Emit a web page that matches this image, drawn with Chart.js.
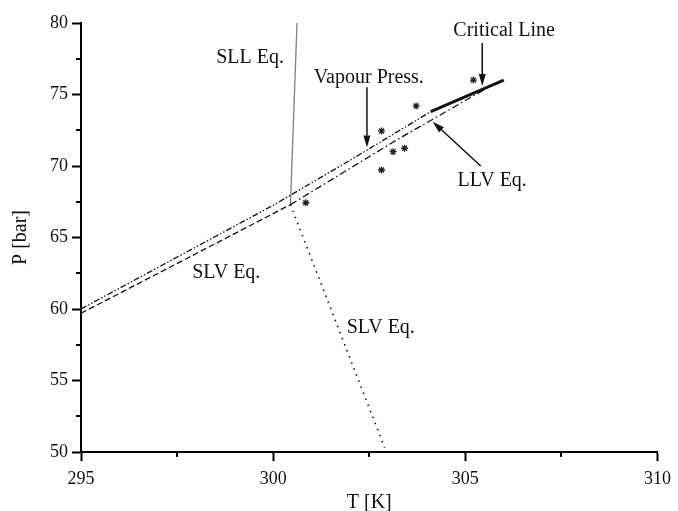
<!DOCTYPE html>
<html>
<head>
<meta charset="utf-8">
<script src="https://cdn.jsdelivr.net/npm/chart.js@4.4.0/dist/chart.umd.min.js"></script>
<style>
  html, body { margin: 0; padding: 0; background: #fff; }
  #wrap { width: 678px; height: 511px; }
</style>
</head>
<body>
<div id="wrap"><canvas id="phase"></canvas></div>
<script>
// curves: temperature T [K] against pressure P [bar]
const vapourT = [295, 297, 299, 300, 302, 304.1];
const vapourP = [60.0, 62.9, 65.8, 67.25, 70.4, 73.8];

const slvLowT = [295, 297.8, 300.45];
const slvLowP = [59.7, 63.6, 67.3];

const llvT = [300.45, 303.2, 305.5];
const llvP = [67.3, 71.8, 75.35];

const criticalT = [304.1, 306.0];
const criticalP = [73.8, 76.0];

const sllT = [300.45, 300.62];
const sllP = [67.3, 80];

const slvHighT = [300.45, 302.9];
const slvHighP = [67.3, 50.3];

// measured points
const expT = [300.85, 302.82, 302.82, 303.12, 303.42, 303.72, 305.21];
const expP = [67.43, 69.72, 72.45, 71.0, 71.24, 74.2, 76.01];

const xTicks = [295, 300, 305, 310];
const yTicks = [50, 55, 60, 65, 70, 75, 80];
const xMinor = [297.5, 302.5, 307.5];
const yMinor = [52.5, 57.5, 62.5, 67.5, 72.5, 77.5];

const pts = (ts, ps) => ts.map((t, i) => ({ x: t, y: ps[i] }));

const INK = '#111';
Chart.defaults.font.family = '"Liberation Serif", "Times New Roman", serif';
Chart.defaults.color = INK;

// text labels and arrows, placed in data units
const notes = [
  { text: 'SLL Eq.', t: 299.4, p: 77.55 },
  { text: 'Vapour Press.', t: 302.49, p: 76.15 },
  { text: 'Critical Line', t: 306.01, p: 79.44 },
  { text: 'LLV Eq.', t: 305.7, p: 69.0 },
  { text: 'SLV Eq.', t: 298.78, p: 62.52 },
  { text: 'SLV Eq.', t: 302.8, p: 58.67 }
];
const arrows = [
  { from: [302.44, 75.5], to: [302.44, 71.3] },
  { from: [305.44, 78.6], to: [305.44, 75.6] },
  { from: [305.4, 70.0], to: [304.15, 73.1] }
];

const minorTicks = {
  id: 'minorTicks',
  afterDraw(chart) {
    const { ctx, scales: { x, y } } = chart;
    ctx.save();
    ctx.strokeStyle = '#000';
    ctx.lineWidth = 2;
    ctx.beginPath();
    xMinor.forEach(v => {
      const px = Math.round(x.getPixelForValue(v));
      ctx.moveTo(px, x.top);
      ctx.lineTo(px, x.top + 5);
    });
    yMinor.forEach(v => {
      const py = Math.round(y.getPixelForValue(v));
      ctx.moveTo(y.right, py);
      ctx.lineTo(y.right - 5, py);
    });
    ctx.stroke();
    ctx.restore();
  }
};

const annotations = {
  id: 'annotations',
  afterDatasetsDraw(chart) {
    const { ctx, scales: { x, y } } = chart;
    ctx.save();
    ctx.fillStyle = INK;
    ctx.font = '20px "Liberation Serif", "Times New Roman", serif';
    ctx.textAlign = 'center';
    ctx.textBaseline = 'middle';
    notes.forEach(n => ctx.fillText(n.text, x.getPixelForValue(n.t), y.getPixelForValue(n.p)));

    ctx.strokeStyle = INK;
    ctx.lineWidth = 1.5;
    arrows.forEach(a => {
      const x0 = x.getPixelForValue(a.from[0]), y0 = y.getPixelForValue(a.from[1]);
      const x1 = x.getPixelForValue(a.to[0]), y1 = y.getPixelForValue(a.to[1]);
      const ang = Math.atan2(y1 - y0, x1 - x0);
      const len = 12, half = 3.5;
      const bx = x1 - len * Math.cos(ang), by = y1 - len * Math.sin(ang);
      ctx.beginPath();
      ctx.moveTo(x0, y0);
      ctx.lineTo(bx, by);
      ctx.stroke();
      ctx.beginPath();
      ctx.moveTo(x1, y1);
      ctx.lineTo(bx + half * Math.sin(ang), by - half * Math.cos(ang));
      ctx.lineTo(bx - half * Math.sin(ang), by + half * Math.cos(ang));
      ctx.closePath();
      ctx.fill();
    });
    ctx.restore();
  }
};

const line = (data, dash, width, color) => ({
  data, showLine: true, borderColor: color || INK, borderWidth: width,
  borderDash: dash, pointRadius: 0, tension: 0, fill: false
});

new Chart(document.getElementById('phase'), {
  type: 'scatter',
  data: {
    datasets: [
      line(pts(vapourT, vapourP), [6, 2, 1.5, 2, 1.5, 2], 1.3),
      line(pts(slvLowT, slvLowP), [6, 3], 1.3),
      line(pts(llvT, llvP), [7, 3, 1.5, 3], 1.3),
      line(pts(criticalT, criticalP), [], 3),
      line(pts(sllT, sllP), [], 1.3, '#808080'),
      line(pts(slvHighT, slvHighP), [1.5, 5], 1.6),
      {
        data: pts(expT, expP), showLine: false, pointStyle: 'star',
        pointRadius: 3.5, borderWidth: 1.3, borderColor: '#222', backgroundColor: '#222'
      }
    ]
  },
  options: {
    responsive: true,
    maintainAspectRatio: false,
    animation: false,
    layout: { padding: { left: 0, top: 23, right: 16, bottom: 0 } },
    plugins: { legend: { display: false }, tooltip: { enabled: false } },
    scales: {
      x: {
        type: 'linear', min: 295, max: 310,
        afterBuildTicks: s => { s.ticks = xTicks.map(v => ({ value: v })); },
        afterFit: s => { s.height = 59; },
        grid: { drawOnChartArea: false, drawTicks: true, tickLength: 9, tickWidth: 2, tickColor: '#000' },
        border: { display: true, color: '#000', width: 2 },
        ticks: { padding: 7, font: { size: 18 }, color: INK, maxRotation: 0 },
        title: { display: true, text: 'T [K]', font: { size: 20, lineHeight: 0.8 }, padding: 0, color: INK }
      },
      y: {
        type: 'linear', min: 50, max: 80,
        afterBuildTicks: s => { s.ticks = yTicks.map(v => ({ value: v })); },
        afterFit: s => { s.width = 81; },
        grid: { drawOnChartArea: false, drawTicks: true, tickLength: 9, tickWidth: 2, tickColor: '#000' },
        border: { display: true, color: '#000', width: 2 },
        ticks: { padding: 4, font: { size: 18 }, color: INK },
        title: { display: true, text: 'P [bar]', font: { size: 20, lineHeight: 1.2 }, padding: { top: 9, bottom: 0 }, color: INK }
      }
    }
  },
  plugins: [minorTicks, annotations]
});
</script>
</body>
</html>
